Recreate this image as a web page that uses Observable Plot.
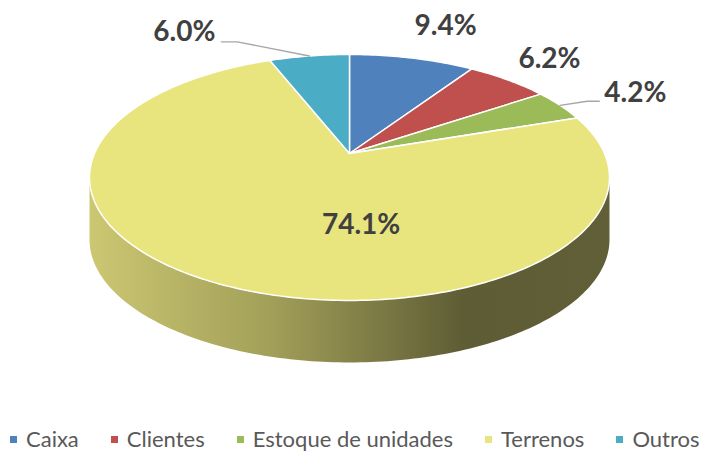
<!DOCTYPE html>
<html>
<head>
<meta charset="utf-8">
<script src="https://cdn.jsdelivr.net/npm/d3@7"></script>
<script src="https://cdn.jsdelivr.net/npm/@observablehq/plot@0.6"></script>
<style>
  html, body { margin: 0; padding: 0; background: #fff; }
  #chart { width: 702px; height: 452px; overflow: hidden; }
  #chart svg.plot { display: block; }
  div.lg-swatches {
    font-family: Lato, "Open Sans", sans-serif; font-size: 22px; color: #595959;
    margin: 0; min-height: 0; height: 24px; line-height: 24px;
    padding-left: 10px; display: flex; align-items: center; flex-wrap: nowrap; white-space: nowrap;
  }
  span.lg-swatch { margin-right: 32px; }
  span.lg-swatch > svg { margin-right: 9px; }
</style>
</head>
<body>
<div id="chart"></div>
<script>
// ---- data ----
const categories = ["Caixa", "Clientes", "Estoque de unidades", "Terrenos", "Outros"];
const values = [9.4, 6.2, 4.2, 74.1, 6.0];
const labels = ["9.4%", "6.2%", "4.2%", "74.1%", "6.0%"];
const colors = ["#4f81bd", "#c0504d", "#9bbb59", "#e8e47e", "#4bacc6"];

// ---- layout (projection of the tilted pie) ----
const CX = 349, CY = 153, SX = 255, SY = 118.3, C = 0.195, DEPTH = 62;
const labelR = [1.45, 1.33, 1.37, 0.54, 1.52];
const labelDA = [2.3, -0.7, 1.6, -29.2, -21.4];
const leaders = {2: [[-36, 8.5], [-48, 8.5]], 4: [[37, 10], [53, 10]]};

function proj(deg, r) {
  const t = deg * Math.PI / 180;
  const X = r * Math.sin(t), Y = r * Math.cos(t);
  const d = 1 + C * Y;
  return {u: X / d, w: Y / d};
}

const total = d3.sum(values);
let cum = 0;
const slices = categories.map((name, i) => {
  const a0 = cum / total * 360;
  cum += values[i];
  const a1 = cum / total * 360;
  return {name, a0, a1, mid: (a0 + a1) / 2, i};
});

// top faces
const topPts = [];
for (const s of slices) {
  topPts.push({name: s.name, u: 0, w: 0});
  const n = Math.max(2, Math.ceil(s.a1 - s.a0));
  for (let k = 0; k <= n; k++) {
    const p = proj(s.a0 + (s.a1 - s.a0) * k / n, 1);
    topPts.push({name: s.name, ...p});
  }
  topPts.push({name: s.name, u: 0, w: 0});
}

// front side wall
const tR = Math.acos(-C) * 180 / Math.PI, tL = 360 - tR;
const sideTop = [];
for (let k = 0; k <= 160; k++) sideTop.push(proj(tR + (tL - tR) * k / 160, 1));
const sidePts = [...sideTop, ...sideTop.slice().reverse().map(p => ({u: p.u, w: p.w - DEPTH / SY}))];

// labels
const labelPts = slices.map(s => {
  const p = proj(s.mid + labelDA[s.i], labelR[s.i]);
  return {...p, text: labels[s.i]};
});

// leader lines
const leaderPts = [];
for (const key of Object.keys(leaders)) {
  const i = +key;
  const lp = labelPts[i];
  leaderPts.push({z: i, ...proj(slices[i].mid, 1.0)});
  for (const [dx, dy] of leaders[i].slice().reverse()) {
    leaderPts.push({z: i, u: lp.u + dx / SX, w: lp.w - dy / SY});
  }
}

const defs = () => {
  const g = d3.create("svg:defs");
  const lg = g.append("linearGradient").attr("id", "sideGrad")
    .attr("x1", "0").attr("x2", "1").attr("y1", "0").attr("y2", "0");
  lg.append("stop").attr("offset", "0").attr("stop-color", "#cbc772");
  lg.append("stop").attr("offset", "0.35").attr("stop-color", "#a29f59");
  lg.append("stop").attr("offset", "0.72").attr("stop-color", "#5e5c34");
  lg.append("stop").attr("offset", "1").attr("stop-color", "#615f37");
  return g.node();
};

const chart = Plot.plot({
  width: 702,
  height: 427,
  margin: 0,
  x: {domain: [-1, 1], range: [CX - SX, CX + SX], axis: null},
  y: {domain: [-1, 1], range: [CY + SY, CY - SY], axis: null},
  color: {domain: categories, range: colors},
  marks: [
    defs,
    Plot.line(sidePts, {x: "u", y: "w", fill: "url(#sideGrad)", stroke: "none"}),
    Plot.line(topPts, {x: "u", y: "w", z: "name", fill: "name", stroke: "white", strokeWidth: 1.5, strokeLinejoin: "round"}),
    Plot.line(leaderPts, {x: "u", y: "w", z: "z", stroke: "#a6a6a6", strokeWidth: 1.4}),
    Plot.text(labelPts, {x: "u", y: "w", text: "text", fill: "#404040", fontSize: 28, fontWeight: "bold", fontFamily: "Lato, sans-serif"})
  ]
});

const legend = Plot.legend({
  color: {type: "ordinal", domain: categories, range: colors},
  swatchSize: 7,
  className: "lg"
});

const el = document.getElementById("chart");
el.appendChild(chart);
el.appendChild(legend);
</script>
</body>
</html>
